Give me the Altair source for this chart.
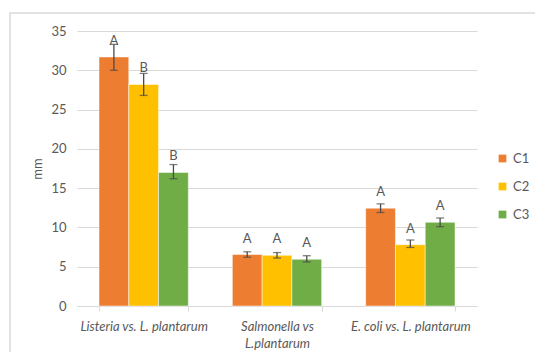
import altair as alt
import pandas as pd

# Inhibition zone diameters (mm) per pathogen pairing and treatment
groups = ["Listeria vs. L. plantarum", "Salmonella vs L.plantarum", "E. coli vs. L. plantarum"]
series = ["C1", "C2", "C3"]
means = [
    [31.7, 28.2, 17.0],
    [6.55, 6.45, 5.95],
    [12.45, 7.8, 10.65],
]
err_low = [
    [30.0, 26.8, 16.2],
    [6.2, 6.1, 5.6],
    [11.9, 7.45, 10.1],
]
err_high = [
    [33.3, 29.6, 18.0],
    [6.9, 6.8, 6.4],
    [13.0, 8.4, 11.2],
]
letters = [
    ["A", "B", "B"],
    ["A", "A", "A"],
    ["A", "A", "A"],
]
y_ticks = [0, 5, 10, 15, 20, 25, 30, 35]
colors = ["#ED7D31", "#FFC000", "#70AD47"]

rows = []
for gi, g in enumerate(groups):
    for si, s in enumerate(series):
        rows.append({
            "group": g, "series": s, "mm": means[gi][si],
            "lo": err_low[gi][si], "hi": err_high[gi][si],
            "letter": letters[gi][si],
        })
df = pd.DataFrame(rows)

W, H = 400, 275
FONT = "Lato"
GRAY = "#595959"

x_scale = alt.Scale(domain=groups, paddingInner=0.33, paddingOuter=0.165)
y_scale = alt.Scale(domain=[0, 35])
off_scale = alt.Scale(domain=series, paddingInner=0, paddingOuter=0)

x_axis = alt.Axis(labelAngle=0, labelFontStyle="italic", labelFontSize=13,
                  labelColor=GRAY, labelFont=FONT, labelPadding=9, labelLineHeight=17,
                  tickBand="extent", tickColor="#D9D9D9", tickSize=5,
                  domainColor="#D9D9D9", grid=False,
                  labelExpr="datum.label == 'Salmonella vs L.plantarum' ? ['Salmonella vs', 'L.plantarum'] : datum.label")
y_axis = alt.Axis(values=y_ticks, grid=True, labelOverlap=False,
                  gridColor="#D9D9D9", domain=False, ticks=False,
                  labelFontSize=13, labelColor=GRAY, labelFont=FONT,
                  labelPadding=11, titleFont=FONT, titleFontSize=13,
                  titleFontWeight="normal", titleColor=GRAY, titlePadding=6)


def xe():
    return alt.X("group:N", scale=x_scale, sort=groups, title=None, axis=x_axis)


def ye(field):
    return alt.Y(field, scale=y_scale, title="mm", axis=y_axis)


xo = alt.XOffset("series:N", scale=off_scale, sort=series)

base = alt.Chart(df)

bars = base.mark_bar(stroke="white", strokeWidth=0.5).encode(
    x=xe(),
    xOffset=xo,
    y=ye("mm:Q"),
    color=alt.Color("series:N", scale=alt.Scale(domain=series, range=colors),
                    legend=alt.Legend(title=None, orient="none", legendX=419, legendY=121,
                                      symbolType="square", symbolSize=60,
                                      symbolStrokeWidth=0, labelFont=FONT,
                                      labelFontSize=13, labelColor=GRAY,
                                      rowPadding=14, labelOffset=4)),
)

whisker = base.mark_rule(color="#4a4a4a", strokeWidth=1.3).encode(
    x=xe(), xOffset=xo, y=ye("lo:Q"), y2="hi:Q",
)
cap_lo = base.mark_tick(color="#4a4a4a", thickness=1.3, size=8, orient="horizontal").encode(
    x=xe(), xOffset=xo, y=ye("lo:Q"),
)
cap_hi = base.mark_tick(color="#4a4a4a", thickness=1.3, size=8, orient="horizontal").encode(
    x=xe(), xOffset=xo, y=ye("hi:Q"),
)
labels = base.mark_text(dy=-16, fontSize=13, font=FONT, color=GRAY, baseline="middle").encode(
    x=xe(), xOffset=xo, y=ye("mm:Q"), text="letter:N",
)

# light frame around the whole figure
frame = alt.Chart(pd.DataFrame({"k": [0]})).mark_rect(
    fill=None, stroke="#D9D9D9", strokeWidth=1.5
).encode(x=alt.value(-67), x2=alt.value(470), y=alt.value(-18), y2=alt.value(330))

chart = alt.layer(bars, whisker, cap_lo, cap_hi, labels, frame).properties(
    width=W, height=H,
    padding={"left": 77, "top": 31, "right": 58, "bottom": 46},
    autosize=alt.AutoSizeParams(type="none"),
    background="white",
).configure_view(stroke=None)

chart.save("out.html", embed_options={"renderer": "svg", "actions": False})
